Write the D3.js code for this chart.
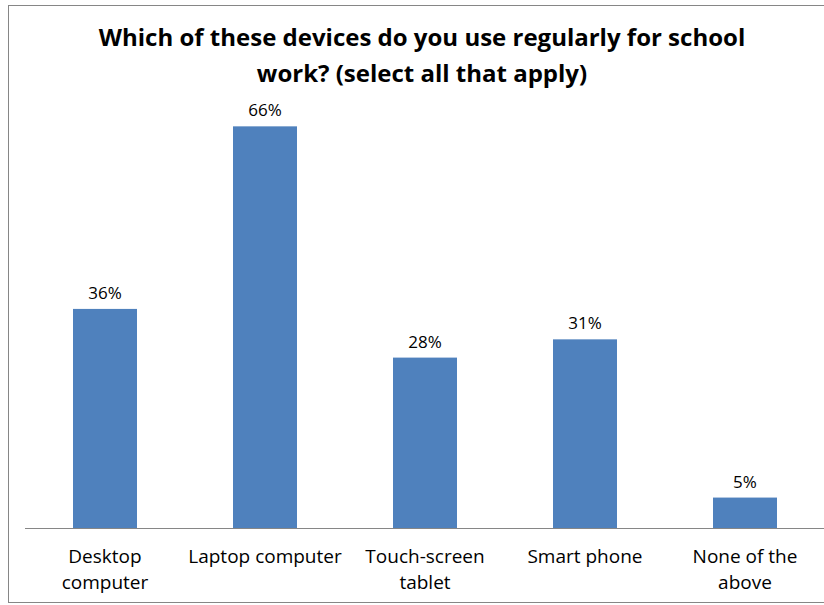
<!DOCTYPE html>
<html>
<head>
<meta charset="utf-8">
<script src="https://cdn.jsdelivr.net/npm/d3@7"></script>
<style>
  body { margin: 0; background: #fff; }
  svg text { font-family: "Open Sans", sans-serif; fill: #000; }
</style>
</head>
<body>
<div id="vis"></div>
<script>
var categories = [["Desktop", "computer"], ["Laptop computer"], ["Touch-screen", "tablet"], ["Smart phone"], ["None of the", "above"]];
var values = [36, 66, 28, 31, 5];
var valueLabels = ["36%", "66%", "28%", "31%", "5%"];
var titleLines = ["Which of these devices do you use regularly for school", "work? (select all that apply)"];

var width = 824, height = 605;
var margin = { top: 102, right: 0, bottom: 77, left: 25 };

var svg = d3.select("#vis")
  .append("svg")
  .attr("width", width)
  .attr("height", height);

// chart frame
svg.append("rect")
  .attr("x", 8.5)
  .attr("y", 5.5)
  .attr("width", 840)
  .attr("height", 597)
  .attr("fill", "#fff")
  .attr("stroke", "#868686")
  .attr("stroke-width", 1);

var x = d3.scaleBand()
  .domain(d3.range(categories.length))
  .range([margin.left, margin.left + 800])
  .paddingInner(0.6)
  .paddingOuter(0.3);

var y = d3.scaleLinear()
  .domain([0, 70])
  .range([height - margin.bottom, margin.top]);

// title
svg.append("g")
  .selectAll("text")
  .data(titleLines)
  .enter()
  .append("text")
  .attr("x", 422)
  .attr("y", function (d, i) { return 46 + i * 36; })
  .attr("text-anchor", "middle")
  .style("font-size", "24px")
  .style("font-weight", "bold")
  .text(function (d) { return d; });

// bars
svg.append("g")
  .selectAll("rect")
  .data(values)
  .enter()
  .append("rect")
  .attr("x", function (d, i) { return x(i); })
  .attr("y", function (d) { return y(d); })
  .attr("width", x.bandwidth())
  .attr("height", function (d) { return y(0) - y(d); })
  .attr("fill", "#4F81BD");

// value labels
svg.append("g")
  .selectAll("text")
  .data(values)
  .enter()
  .append("text")
  .attr("x", function (d, i) { return x(i) + x.bandwidth() / 2; })
  .attr("y", function (d) { return y(d) - 10; })
  .attr("text-anchor", "middle")
  .style("font-size", "17px")
  .text(function (d, i) { return valueLabels[i]; });

// x axis line
svg.append("line")
  .attr("x1", margin.left)
  .attr("x2", margin.left + 800)
  .attr("y1", y(0) + 0.5)
  .attr("y2", y(0) + 0.5)
  .attr("stroke", "#868686")
  .attr("stroke-width", 1);

// category labels
var cat = svg.append("g")
  .selectAll("text")
  .data(categories)
  .enter()
  .append("text")
  .attr("text-anchor", "middle")
  .style("font-size", "19px");
cat.selectAll("tspan")
  .data(function (d, i) { return d.map(function (s) { return { s: s, i: i }; }); })
  .enter()
  .append("tspan")
  .attr("x", function (d) { return x(d.i) + x.bandwidth() / 2; })
  .attr("y", function (d, j) { return y(0) + 35 + j * 26; })
  .text(function (d) { return d.s; });
</script>
</body>
</html>
